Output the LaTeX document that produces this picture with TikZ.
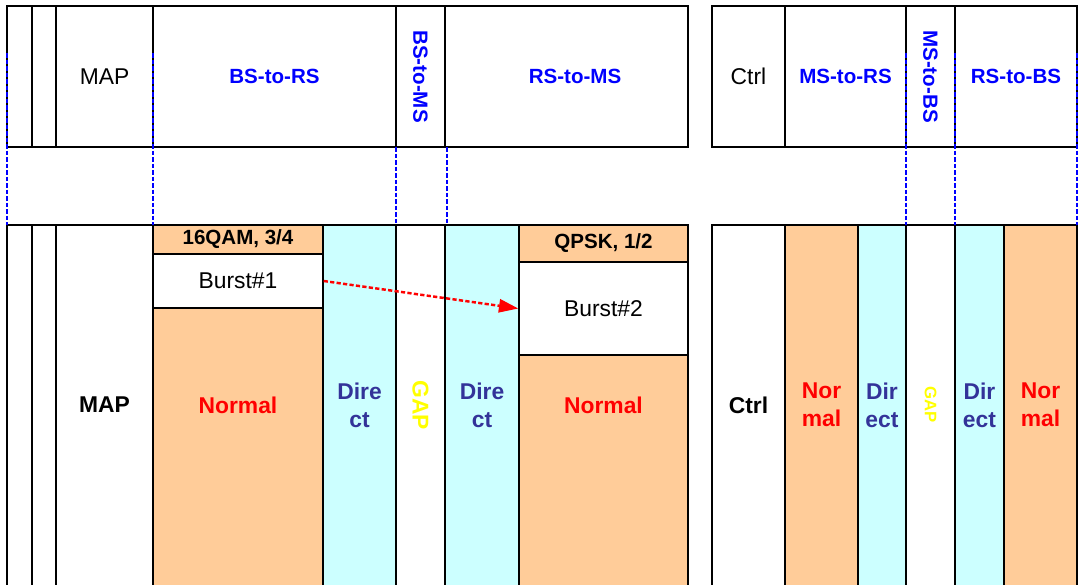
\documentclass[tikz,border=0pt]{standalone}
\usepackage{fontspec}
\setmainfont{Liberation Sans}
\usetikzlibrary{arrows.meta,positioning,fit}

\definecolor{peach}{HTML}{FFCC99}
\definecolor{aqua}{HTML}{CCFFFF}
\definecolor{linkblue}{HTML}{0000FF}
\definecolor{directblue}{HTML}{333399}
\definecolor{gapyellow}{HTML}{FFFF00}

\tikzset{
  cell/.style={draw, line width=0.8pt, inner sep=0pt, fit={#1}},
  head/.style={text=linkblue, font=\fontsize{11.7}{14}\selectfont\bfseries},
  bodylbl/.style={font=\fontsize{13}{16}\selectfont},
  boldlbl/.style={font=\fontsize{13}{16}\selectfont\bfseries, align=center},
  rate/.style={font=\fontsize{11.7}{14}\selectfont\bfseries},
  normlbl/.style={boldlbl, text=red},
  directlbl/.style={boldlbl, text=directblue},
  gaplbl/.style={text=gapyellow, rotate=-90, font=\fontsize{#1}{#1}\selectfont\bfseries},
  guide/.style={linkblue, line width=1.7pt, dash pattern=on 2.6pt off 1.1pt},
  burstlink/.style={red, line width=1.4pt, dash pattern=on 2.4pt off 1.3pt,
    -{Triangle[length=11pt,width=7.5pt]}}
}

\begin{document}
\begin{tikzpicture}[x=0.02cm, y=-0.02cm]
\clip (0,0) rectangle (1080,585);
\coordinate (mid) at (0,405);

% top row: downlink and uplink zones
\node[cell={(7,6)(32,147)}] (tEdgeA) {};
\node[cell={(32,6)(56,147)}] (tEdgeB) {};
\node[cell={(56,6)(153,147)}] (tMap) {};
\node[cell={(153,6)(396,147)}] (tBsRs) {};
\node[cell={(396,6)(445,147)}] (tBsMs) {};
\node[cell={(445,6)(688,147)}] (tRsMs) {};
\node[cell={(712,6)(785,147)}] (tCtrl) {};
\node[cell={(785,6)(906,147)}] (tMsRs) {};
\node[cell={(906,6)(955,147)}] (tMsBs) {};
\node[cell={(955,6)(1077,147)}] (tRsBs) {};

\node[bodylbl] (lTopMap) at (tMap) {MAP};
\node[head] (lBsRs) at (tBsRs) {BS-to-RS};
\node[head, rotate=-90] (lBsMs) at (tBsMs) {BS-to-MS};
\node[head] (lRsMs) at (575,76) {RS-to-MS};
\node[bodylbl] (lTopCtrl) at (tCtrl) {Ctrl};
\node[head] (lMsRs) at (tMsRs) {MS-to-RS};
\node[head, rotate=-90] (lMsBs) at (tMsBs) {MS-to-BS};
\node[head] (lRsBs) at (tRsBs) {RS-to-BS};

% bottom row: bursts, left frame
\node[cell={(7,225)(32,590)}] (bEdgeA) {};
\node[cell={(32,225)(56,590)}] (bEdgeB) {};
\node[cell={(56,225)(153,590)}] (bMap) {};
\node[cell={(153,225)(323,254)}, fill=peach] (rateA) {};
\node[cell={(153,254)(323,308)}] (burstA) {};
\node[cell={(153,308)(323,590)}, fill=peach] (normA) {};
\node[cell={(323,225)(396,590)}, fill=aqua] (directA) {};
\node[cell={(396,225)(445,590)}] (gapA) {};
\node[cell={(445,225)(519,590)}, fill=aqua] (directB) {};
\node[cell={(519,225)(688,262)}, fill=peach] (rateB) {};
\node[cell={(519,262)(688,355)}] (burstB) {};
\node[cell={(519,355)(688,590)}, fill=peach] (normB) {};

% bottom row: right frame
\node[cell={(712,225)(785,590)}] (bCtrl) {};
\node[cell={(785,225)(858,590)}, fill=peach] (normC) {};
\node[cell={(858,225)(906,590)}, fill=aqua] (directC) {};
\node[cell={(906,225)(955,590)}] (gapB) {};
\node[cell={(955,225)(1004,590)}, fill=aqua] (directD) {};
\node[cell={(1004,225)(1077,590)}, fill=peach] (normD) {};

\node[rate] (lRateA) at (rateA) {16QAM, 3/4};
\node[bodylbl] (lBurstA) at (burstA) {Burst\#1};
\node[rate] (lRateB) at (rateB) {QPSK, 1/2};
\node[bodylbl] (lBurstB) at (burstB) {Burst\#2};

% labels on the middle line
\node[boldlbl] (lMap) at (bMap |- mid) {MAP};
\node[normlbl] (lNormA) at (normA |- mid) {Normal};
\node[directlbl] (lDirA) at (directA |- mid) {Dire\\ct};
\node[gaplbl=13] (lGapA) at (gapA |- mid) {GAP};
\node[directlbl] (lDirB) at (directB |- mid) {Dire\\ct};
\node[normlbl] (lNormB) at (normB |- mid) {Normal};
\node[boldlbl] (lCtrl) at (bCtrl |- mid) {Ctrl};
\node[normlbl] (lNormC) at (normC |- mid) {Nor\\mal};
\node[directlbl] (lDirC) at (directC |- mid) {Dir\\ect};
\node[gaplbl=9.5] (lGapB) at (gapB |- mid) {GAP};
\node[directlbl] (lDirD) at (directD |- mid) {Dir\\ect};
\node[normlbl] (lNormD) at (normD |- mid) {Nor\\mal};

% zone boundaries
\foreach \x/\ytop in {7/53, 153/53, 396/147, 447/147, 906/53, 955/53, 1077/53}
  \draw[guide] (\x,\ytop) -- (\x,225);

\draw[burstlink] (burstA.east) -- (burstB.west);
\end{tikzpicture}
\end{document}
